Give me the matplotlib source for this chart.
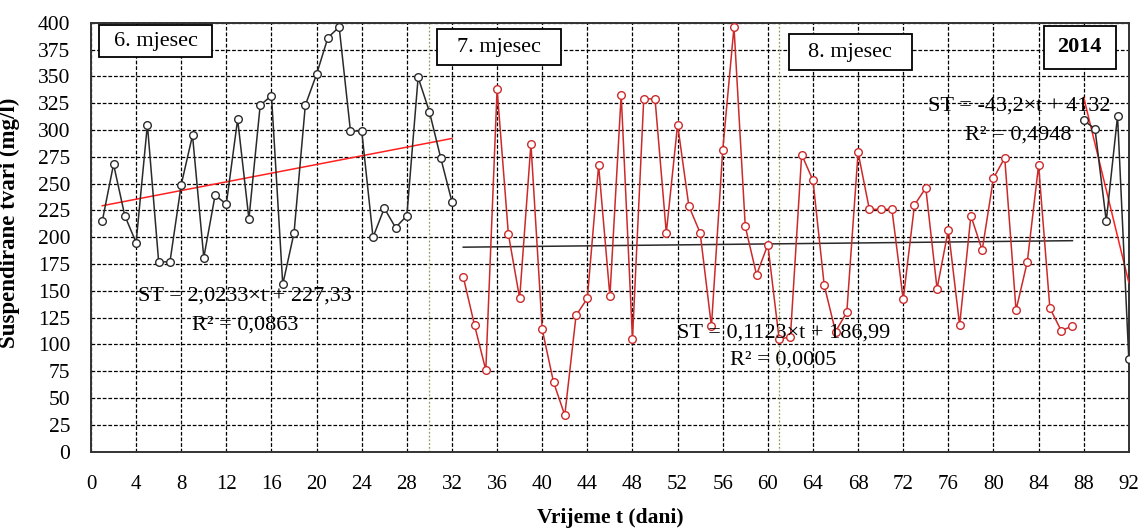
import numpy as np
import matplotlib.pyplot as plt
from matplotlib.patches import Rectangle

plt.rcParams['font.family'] = ['Liberation Serif', 'DejaVu Serif']

# Podaci - suspendirane tvari (mg/l) po danima
dani_lipanj = list(range(1, 33))
st_lipanj = [215, 268, 220, 195, 305, 177, 177, 249, 295, 181, 239, 231, 310, 217, 323, 332,
             156, 204, 323, 352, 386, 396, 299, 299, 200, 227, 209, 220, 349, 317, 274, 233]

dani_srpanj = list(range(33, 88))
st_srpanj = [163, 118, 76, 338, 203, 143, 287, 114, 65, 34, 127, 143, 267, 145, 333, 105,
             329, 329, 204, 305, 229, 204, 117, 281, 396, 210, 165, 193, 105, 107, 277, 253,
             155, 112, 130, 279, 226, 226, 226, 142, 230, 246, 152, 207, 118, 220, 188, 255,
             274, 132, 177, 267, 134, 113, 117]

dani_kolovoz = [88, 89, 90, 91, 92]
st_kolovoz = [309, 301, 215, 313, 86]

# Trendovi (nagib, odsjecak, raspon)
trend_lipanj = (2.0233, 227.33, [1, 32])
trend_srpanj = (0.1123, 186.99, [33, 87])
trend_kolovoz = (-43.2, 4132, [88, 92])

granice_mjeseca = [30, 61]

fig = plt.figure(figsize=(11.43, 5.28), dpi=100)
ax = fig.add_axes([0.0796, 0.1445, 0.908, 0.8125])

crna = '#2a2a2a'
crvena = '#cc2a2a'

ax.plot(dani_lipanj, st_lipanj, color=crna, lw=1.1, marker='o', ms=5.5,
        mfc='white', mec=crna, mew=1.0, zorder=4)
ax.plot(dani_srpanj, st_srpanj, color=crvena, lw=1.1, marker='o', ms=5.5,
        mfc='white', mec=crvena, mew=1.0, zorder=4)
ax.plot(dani_kolovoz, st_kolovoz, color=crna, lw=1.1, marker='o', ms=5.5,
        mfc='white', mec=crna, mew=1.0, zorder=4)

for (k, b, raspon), boja in [(trend_lipanj, '#ff2020'), (trend_srpanj, crna), (trend_kolovoz, '#ff2020')]:
    t = np.array(raspon)
    ax.plot(t, k * t + b, color=boja, lw=1.1, zorder=3)

for g in granice_mjeseca:
    ax.axvline(g, color='#8f9f5a', lw=0.9, ls=(0, (1.5, 1.5)), zorder=2)

ax.set_xlim(0, 92)
ax.set_ylim(0, 400)
ax.set_xticks(np.arange(0, 93, 4))
ax.set_yticks(np.arange(0, 401, 25))
ax.grid(True, color='black', lw=0.9, ls=(0, (3, 1.5)), zorder=1)
ax.tick_params(axis='both', length=0, labelsize=15.5)
ax.tick_params(axis='x', labelsize=15, pad=17)
ax.tick_params(axis='y', pad=15)
for s in ax.spines.values():
    s.set_color('#333333')
    s.set_linewidth(1.4)

ax.set_xlabel('Vrijeme t (dani)', fontsize=15.5, fontweight='bold', labelpad=10)
ax.set_ylabel('Suspendirane tvari (mg/l)', fontsize=16.5, fontweight='bold')
ax.yaxis.set_label_coords(-0.0684, 0.533)


# okvir s natpisom mjeseca
def okvir(x0, x1, y0, y1, tekst, **kw):
    ax.add_patch(Rectangle((x0, y0), x1 - x0, y1 - y0, fc='white', ec='black',
                           lw=1.3, zorder=6))
    ax.text((x0 + x1) / 2, (y0 + y1) / 2, tekst, fontsize=16, ha='center',
            va='center', zorder=7, **kw)


okvir(0.71, 10.73, 367.8, 397.6, '6. mjesec')
okvir(30.7, 41.65, 360.2, 393.9, '7. mjesec')
okvir(61.86, 72.76, 355.9, 389.4, '8. mjesec')
okvir(84.46, 90.84, 357.0, 396.9, '2014', fontweight='bold')

ax.text(13.65, 145, 'ST = 2,0233×t + 227,33', fontsize=16, ha='center', va='center', zorder=5)
ax.text(13.65, 118, 'R² = 0,0863', fontsize=16, ha='center', va='center', zorder=5)
ax.text(61.4, 110.5, 'ST = 0,1123×t + 186,99', fontsize=16, ha='center', va='center', zorder=5)
ax.text(61.4, 85.5, 'R² = 0,0005', fontsize=16, ha='center', va='center', zorder=5)
ax.text(82.25, 322.3, 'ST = -43,2×t + 4132', fontsize=16, ha='center', va='center', zorder=5)
ax.text(82.2, 295.3, 'R² = 0,4948', fontsize=16, ha='center', va='center', zorder=5)

fig.savefig('out.png', dpi=100)
